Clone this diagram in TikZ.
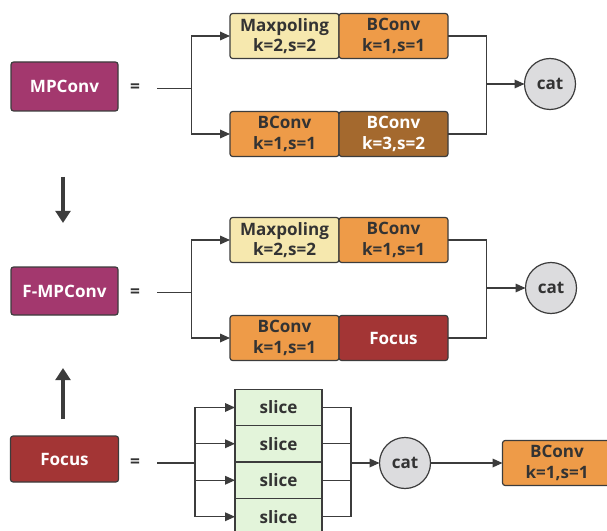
\documentclass[tikz,border=0pt]{standalone}
\usepackage{fontspec}
\setmainfont{Open Sans}
\usetikzlibrary{arrows.meta}
\definecolor{bord}{HTML}{3C3C3C}
\definecolor{txt}{HTML}{333333}
\definecolor{cpurple}{HTML}{A3386E}
\definecolor{cmax}{HTML}{F6E8AE}
\definecolor{corange}{HTML}{EE9B48}
\definecolor{cbrown}{HTML}{A4692E}
\definecolor{cred}{HTML}{A33535}
\definecolor{cslice}{HTML}{E3F4DA}
\definecolor{ccat}{HTML}{DCDCDE}
\tikzset{
  blk/.style={draw=bord, line width=0.9pt, rounded corners=2pt, align=center, inner sep=0pt, outer sep=0pt,
    font=\fontsize{12.8}{15.5}\selectfont\bfseries, text=txt, minimum width=81.75pt, minimum height=33.75pt},
  lbl/.style={blk, minimum width=80.25pt, minimum height=36.75pt, text=white},
  slicebox/.style={draw=bord, line width=1.1pt, fill=cslice, inner sep=0pt, outer sep=0pt,
    font=\fontsize{12.8}{15.5}\selectfont\bfseries, text=txt, minimum width=65.25pt, minimum height=27.4pt},
  catnode/.style={circle, draw=bord, line width=0.9pt, fill=ccat, minimum size=38.25pt, inner sep=0pt, outer sep=0pt,
    font=\fontsize{12.8}{15.5}\selectfont\bfseries, text=txt},
  eq/.style={font=\fontsize{13}{15}\selectfont\bfseries, text=txt},
  ln/.style={draw=bord, line width=0.9pt},
  arr/.style={ln, -{Triangle[length=7.5pt,width=6.5pt]}},
  bigarr/.style={draw=bord, line width=3pt, -{Triangle[length=9pt,width=11pt]}}
}
\begin{document}
\begin{tikzpicture}[x=0.75pt,y=-0.75pt]
\clip (0,0) rectangle (607,531);
\fill[white] (0,0) rectangle (607,531);
% Row 1
\node[lbl, fill=cpurple] (mp) at (64.5,86.5) {MPConv};
\node[eq] (eq1) at (135,88) {=};
\node[blk, fill=cmax] (max1) at (284.5,36) {Maxpoling\\k=2,s=2};
\node[blk, fill=corange] (bc1) at (393.5,36) {BConv\\k=1,s=1};
\node[blk, fill=corange] (bc2) at (284.5,134) {BConv\\k=1,s=1};
\node[blk, fill=cbrown, text=white] (bc3) at (393.5,134) {BConv\\k=3,s=2};
\node[catnode] (cat1) at (550,84) {cat};
\coordinate (in1) at (157,88.7);
\coordinate (sp1) at (191.5,88.7);
\coordinate (j1) at (486.5,84);
\draw[ln] (in1) -- (sp1);
\draw[arr] (sp1) |- (max1.west);
\draw[arr] (sp1) |- (bc2.west);
\draw[ln] (bc1.east) -| (j1);
\draw[ln] (bc3.east) -| (j1);
\draw[arr] (j1) -- (cat1);
% big arrows
\coordinate (da1) at (63,177);
\coordinate (da2) at (63,223);
\draw[bigarr] (da1) -- (da2);
\coordinate (ua1) at (63,419);
\coordinate (ua2) at (63,368);
\draw[bigarr] (ua1) -- (ua2);
% Row 2
\node[lbl, fill=cpurple, minimum height=36pt] (fmp) at (64.5,291) {F-MPConv};
\node[eq] (eq2) at (135,293) {=};
\node[blk, fill=cmax] (max2) at (284.5,240) {Maxpoling\\k=2,s=2};
\node[blk, fill=corange] (bc4) at (393.5,240) {BConv\\k=1,s=1};
\node[blk, fill=corange] (bc5) at (284.5,338) {BConv\\k=1,s=1};
\node[blk, fill=cred, text=white] (foc2) at (393.5,338) {Focus};
\node[catnode] (cat2) at (551,288) {cat};
\coordinate (in2) at (157,292.7);
\coordinate (sp2) at (191.5,292.7);
\coordinate (j2) at (486.7,288);
\draw[ln] (in2) -- (sp2);
\draw[arr] (sp2) |- (max2.west);
\draw[arr] (sp2) |- (bc5.west);
\draw[ln] (bc4.east) -| (j2);
\draw[ln] (foc2.east) -| (j2);
\draw[arr] (j2) -- (cat2);
% Row 3
\node[lbl, fill=cred, minimum width=81pt, minimum height=34.5pt] (foc) at (64.5,459) {Focus};
\node[eq] (eq3) at (135,463) {=};
\node[slicebox] (sl1) at (278.5,407.5) {slice};
\node[slicebox] (sl2) at (278.5,443.75) {slice};
\node[slicebox] (sl3) at (278.5,480.25) {slice};
\node[slicebox] (sl4) at (278.5,516.75) {slice};
\node[catnode] (cat3) at (405,463) {cat};
\node[blk, fill=corange] (bc6) at (557,463) {BConv\\k=1,s=1};
\coordinate (in3) at (157,463);
\coordinate (sp3) at (195,463);
\coordinate (j3) at (351,463);
\draw[ln] (in3) -- (sp3);
\foreach \s in {sl1,sl2,sl3,sl4} {
  \draw[arr] (sp3) |- (\s.west);
  \draw[ln] (\s.east) -| (j3);
}
\draw[arr] (j3) -- (cat3);
\draw[arr] (cat3) -- (bc6);
\end{tikzpicture}
\end{document}
